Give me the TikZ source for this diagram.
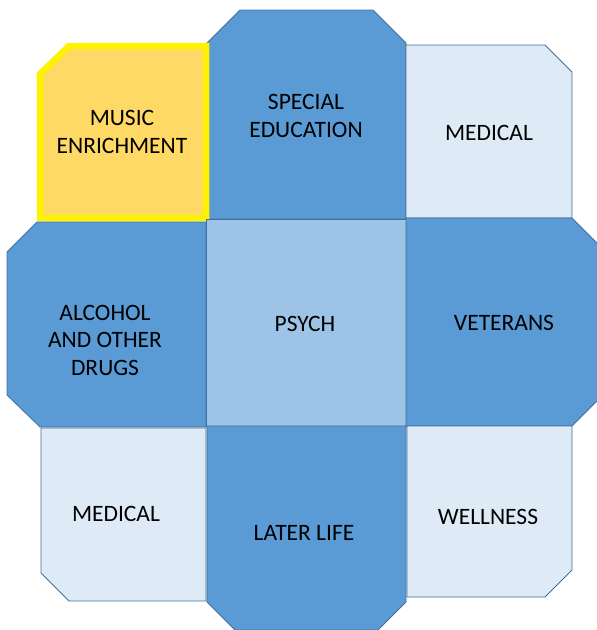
\documentclass[tikz,border=0pt]{standalone}
\usepackage{fontspec}
\setmainfont{Carlito}
\usepackage{tikz}
\definecolor{tileblue}{HTML}{5B9BD5}
\definecolor{tilepale}{HTML}{DEEBF7}
\definecolor{tilemid}{HTML}{9DC3E6}
\definecolor{tilegold}{HTML}{FFD966}
\definecolor{tileedge}{HTML}{41719C}
\begin{document}
\begin{tikzpicture}[x=1pt, y=-1pt, tile/.style={draw=tileedge, line width=0.8pt,
line join=miter}, label/.style={align=center, text=black,
font=\fontsize{23.5}{27.5}\selectfont}]
  \clip (0,0) rectangle (597,630);
  % top row
  \fill[tile, fill=tileblue] (207,43) -- (240,10) -- (373,10) -- (406,43) -- (406,219) -- (207,219) -- cycle;
  \fill[tile, fill=tilepale] (406,45) -- (545,45) -- (572,72) -- (572,218) -- (406,218) -- cycle;
  \fill[tilegold, draw=yellow, line width=6.5pt] (40,74) -- (69,46) -- (206,46) -- (206,218) -- (40,218) -- cycle;
  % middle row
  \fill[tile, fill=tileblue] (7,252) -- (37,222) -- (206,222) -- (206,427) -- (40,427) -- (7,395) -- cycle;
  \fill[tile, fill=tilemid] (206,219) rectangle (406,426);
  \fill[tile, fill=tileblue] (406,218) -- (572,218) -- (600,246) -- (600,398) -- (572,426) -- (406,426) -- cycle;
  % bottom row
  \fill[tile, fill=tilepale] (41,428) -- (206,428) -- (206,601) -- (69,601) -- (41,573) -- cycle;
  \fill[tile, fill=tileblue] (207,426) -- (406,426) -- (406,602) -- (378,630) -- (235,630) -- (207,602) -- cycle;
  \fill[tile, fill=tilepale] (407,426) -- (572,426) -- (572,570) -- (545,597) -- (407,597) -- cycle;
  % labels
  \node[label] (music) at (122,132) {MUSIC\\ENRICHMENT};
  \node[label] (special) at (306,116) {SPECIAL\\EDUCATION};
  \node[label] (medtop) at (489,133) {MEDICAL};
  \node[label] (alcohol) at (105,340) {ALCOHOL\\AND OTHER\\DRUGS};
  \node[label] (psych) at (305,324) {PSYCH};
  \node[label] (veterans) at (504,323) {VETERANS};
  \node[label] (medbot) at (116,514) {MEDICAL};
  \node[label] (later) at (304,533) {LATER LIFE};
  \node[label] (wellness) at (488,517) {WELLNESS};
\end{tikzpicture}
\end{document}
